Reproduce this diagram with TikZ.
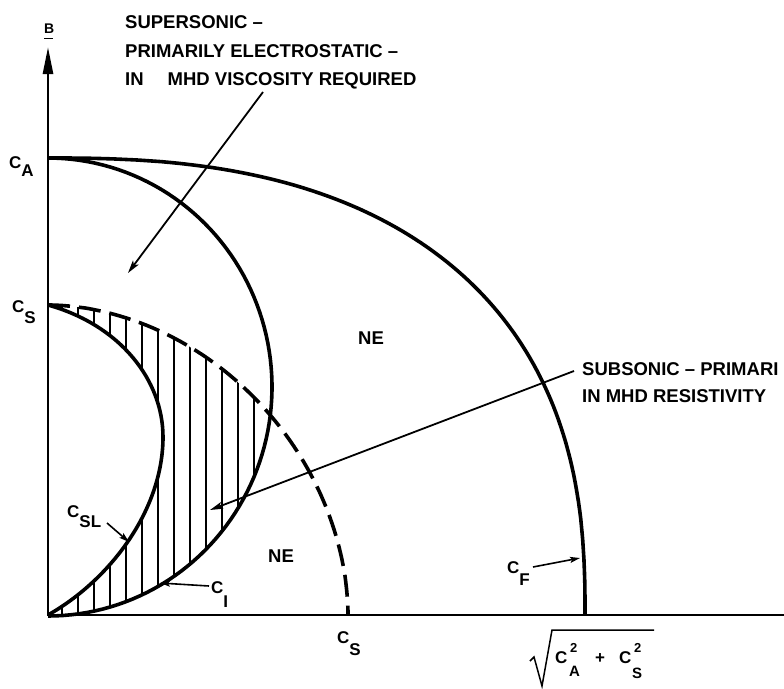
\documentclass[tikz,border=0pt]{standalone}
\usepackage{fontspec}
\setmainfont{Liberation Sans}
\usetikzlibrary{arrows.meta}
\newcommand{\Cs}[2][10pt]{C\raisebox{-#1}{#2}}
\begin{document}
\begin{tikzpicture}[x=1pt,y=-1pt,
  txt/.style={font=\fontsize{18.5}{18.5}\selectfont\bfseries, inner sep=0pt, anchor=base west},
  lab/.style={font=\fontsize{17}{17}\selectfont\bfseries, inner sep=0pt, anchor=base west},
  sml/.style={font=\fontsize{13}{13}\selectfont\bfseries, inner sep=0pt, anchor=base west},
  curve/.style={line width=3.6pt},
  axisline/.style={line width=2.6pt},
  leader/.style={line width=1.8pt, -{Stealth[length=13pt,width=7pt,inset=3pt]}},
  smallleader/.style={line width=1.6pt, -{Stealth[length=10pt,width=6pt,inset=2pt]}},
  hatchline/.style={line width=2.6pt},
  ]
\useasboundingbox (0,0) rectangle (784,688);

% hatched region
\begin{scope}
  \clip (48,615) -- plot[domain=90:0,samples=80] ({48+300*max(cos(\x),0.0001)^1.053},{615-310*max(sin(\x),0.0001)^1.053}) -- cycle;
  \clip plot[domain=-90:90,samples=90] ({48+224*cos(\x)},{387+229*sin(\x)}) -- cycle;
  \foreach \h in {62,78,...,270} \draw[hatchline] (\h,150) -- (\h,620);
\end{scope}
\fill[white] (48,305) .. controls (120,325) and (163,380) .. (163,437) .. controls (163,510) and (110,580) .. (48,615) -- cycle;

% curves
\draw[curve] (48,305) .. controls (120,325) and (163,380) .. (163,437) .. controls (163,510) and (110,580) .. (48,615);
\draw[curve] plot[domain=-90:90,samples=90] ({48+224*cos(\x)},{387+229*sin(\x)});
\draw[curve, dash pattern=on 22pt off 9pt] plot[domain=90:0,samples=80] ({48+300*max(cos(\x),0.0001)^1.053},{615-310*max(sin(\x),0.0001)^1.053});
\draw[curve] plot[domain=90:0,samples=90] ({48+537*max(cos(\x),0.0001)^0.8},{615-457*max(sin(\x),0.0001)^0.8});

% axes
\coordinate (O) at (48,615);
\coordinate (ytip) at (48,47);
\coordinate (xend) at (784,615);
\draw[axisline] (O) -- (xend);
\draw[axisline, -{Stealth[length=27pt,width=10pt,inset=0pt]}] (48,616) -- (ytip);
\node[sml, font=\fontsize{14}{14}\selectfont\bfseries] (B) at (44,33) {B};
\draw[line width=1.5pt] (44,38.5) -- (53,38.5);

% texts
\node[txt] (s1) at (125,28) {SUPERSONIC –};
\node[txt] (s2) at (125,57) {PRIMARILY ELECTROSTATIC –};
\node[txt] (s3) at (125,85) {IN\hspace{24pt}MHD VISCOSITY REQUIRED};
\node[txt] (b1) at (582,375) {SUBSONIC – PRIMARI};
\node[txt] (b2) at (582,402) {IN MHD RESISTIVITY};
\node[txt] (ne1) at (358,344) {NE};
\node[txt] (ne2) at (268,562) {NE};

\node[lab] (ca) at (9,168) {\Cs[8pt]{A}};
\node[lab] (csy) at (12,312) {\Cs[11pt]{S}};
\node[lab] (csl) at (67,517) {\Cs[10pt]{SL}};
\node[lab] (ci) at (211,593) {\Cs[14pt]{I}};
\node[lab] (cf) at (507,573) {\Cs[12pt]{F}};
\node[lab] (csx) at (337,643) {\Cs[12pt]{S}};

% sqrt(C_A^2 + C_S^2)
\draw[line width=1.5pt] (530,661) -- (534,657) -- (542,686) -- (552,630) -- (654,630);
\node[lab] (q1) at (555,663) {C};
\node[sml] (q2) at (570,652) {2};
\node[lab, font=\fontsize{15}{15}\selectfont\bfseries] (q3) at (569,676) {A};
\node[lab] (q4) at (595,663) {+};
\node[lab] (q5) at (619,663) {C};
\node[sml] (q6) at (634,652) {2};
\node[lab, font=\fontsize{15}{15}\selectfont\bfseries] (q7) at (632,678) {S};

% leaders
\coordinate (supS) at (263,92);
\coordinate (supE) at (128,273);
\draw[leader] (supS) -- (supE);
\coordinate (subS) at (574,371);
\coordinate (subE) at (210,510);
\draw[leader] (subS) -- (subE);
\coordinate (cslS) at (107,523);
\coordinate (cslE) at (129,542);
\draw[smallleader] (cslS) -- (cslE);
\coordinate (ciS) at (209,586);
\coordinate (ciE) at (160,583);
\draw[smallleader] (ciS) -- (ciE);
\coordinate (cfS) at (533,567);
\coordinate (cfE) at (580,558);
\draw[smallleader] (cfS) -- (cfE);
\end{tikzpicture}
\end{document}
